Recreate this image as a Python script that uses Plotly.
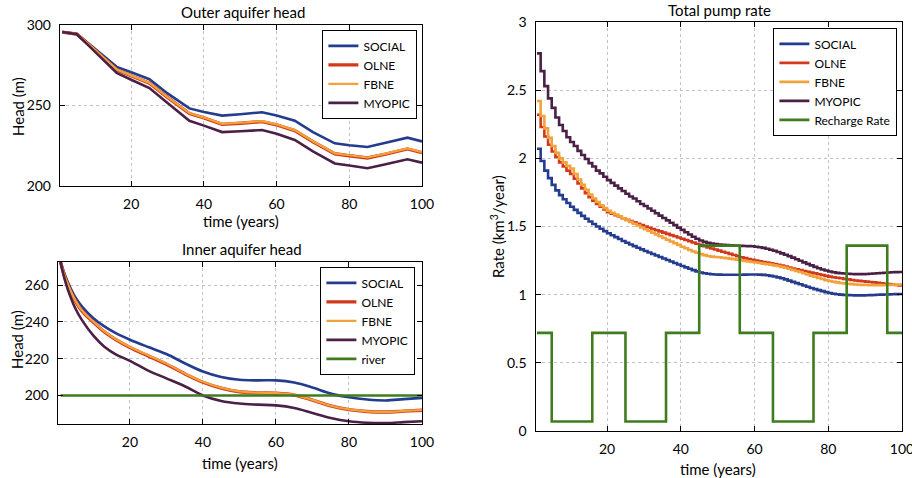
import plotly.graph_objects as go

# ---------------- Outer aquifer head (m) ----------------
outer_years = [1, 3, 5, 8, 12, 16, 20, 25, 30, 36, 40, 45, 50, 56, 60, 65, 70, 76, 80, 85, 90, 96, 100]
outer_social = [295.6, 295.3, 294.6, 289.0, 281.5, 274.0, 270.7, 266.3, 257.5, 248.2, 246.0, 243.7,
                244.6, 245.8, 243.8, 240.6, 233.5, 226.5, 225.3, 224.2, 226.8, 230.0, 227.7]
outer_olne = [295.6, 295.2, 294.4, 288.5, 280.3, 272.2, 268.5, 263.8, 255.0, 245.0, 242.3, 238.3,
              239.0, 240.0, 238.0, 234.4, 227.5, 220.0, 218.8, 217.4, 219.8, 223.0, 220.7]
outer_fbne = [295.6, 295.2, 294.4, 288.6, 280.5, 272.4, 268.7, 264.0, 255.2, 245.3, 242.5, 238.6,
              239.3, 240.3, 238.3, 234.7, 227.8, 220.3, 219.1, 217.7, 220.1, 223.3, 221.0]
outer_myopic = [295.6, 295.1, 294.2, 287.8, 278.8, 270.2, 266.0, 260.8, 251.5, 240.5, 237.5, 233.5,
                234.0, 234.8, 232.5, 228.6, 221.5, 214.0, 212.7, 211.0, 213.5, 216.6, 214.5]

# ---------------- Inner aquifer head (m) ----------------
inner_years = [1, 2, 3, 5, 7, 10, 13, 16, 20, 25, 30, 35, 40, 45, 50, 55, 60, 65, 70, 75, 80, 85, 90, 95, 100]
inner_social = [272.5, 266.5, 261.5, 253.5, 248.0, 242.0, 237.5, 234.0, 230.3, 226.3, 222.5, 217.5, 213.0,
                210.0, 208.5, 208.2, 208.2, 207.0, 204.3, 201.0, 199.0, 197.8, 197.3, 198.0, 198.7]
inner_olne = [272.5, 265.5, 260.0, 251.5, 245.5, 239.8, 234.5, 230.5, 226.0, 221.5, 217.0, 211.8, 207.2,
              204.0, 202.0, 201.4, 201.2, 200.2, 197.5, 194.3, 192.3, 191.3, 191.0, 191.5, 192.0]
inner_fbne = [272.5, 265.7, 260.3, 251.8, 245.8, 240.1, 234.8, 230.8, 226.3, 221.8, 217.3, 212.0, 207.4,
              204.2, 202.2, 201.5, 201.3, 200.3, 197.6, 194.4, 192.4, 191.4, 191.1, 191.6, 192.1]
inner_myopic = [272.5, 264.0, 257.5, 247.5, 240.5, 232.5, 226.5, 222.5, 218.8, 213.5, 209.3, 205.0, 200.0,
                197.0, 195.6, 195.0, 194.6, 193.2, 190.5, 187.8, 186.0, 185.2, 185.0, 185.5, 186.0]
river_years = [1, 100]
river_head = [200, 200]

# ---------------- Total pump rate (km^3/year), one value per year ----------------
pump_years = list(range(1, 101))
pump_social = [
    2.07, 1.98, 1.91, 1.855, 1.805, 1.765, 1.73, 1.70, 1.672, 1.645,
    1.622, 1.60, 1.578, 1.557, 1.537, 1.518, 1.50, 1.483, 1.466, 1.45,
    1.436, 1.422, 1.408, 1.394, 1.381, 1.368, 1.356, 1.344, 1.332, 1.32,
    1.309, 1.298, 1.287, 1.276, 1.265, 1.254, 1.243, 1.232, 1.221, 1.21,
    1.20, 1.19, 1.18, 1.171, 1.163, 1.157, 1.153, 1.15, 1.148, 1.147,
    1.146, 1.146, 1.146, 1.146, 1.146, 1.146, 1.147, 1.148, 1.148, 1.148,
    1.147, 1.145, 1.142, 1.138, 1.133, 1.127, 1.12, 1.112, 1.103, 1.094,
    1.085, 1.076, 1.067, 1.058, 1.049, 1.041, 1.033, 1.026, 1.019, 1.012,
    1.007, 1.003, 1.0, 0.998, 0.997, 0.996, 0.995, 0.995, 0.995, 0.996,
    0.997, 0.998, 0.999, 1.0, 1.001, 1.002, 1.003, 1.004, 1.005, 1.005]
pump_olne = [
    2.32, 2.23, 2.16, 2.10, 2.05, 2.01, 1.97, 1.94, 1.91, 1.885,
    1.85, 1.815, 1.78, 1.745, 1.715, 1.69, 1.665, 1.645, 1.625, 1.605,
    1.594, 1.583, 1.572, 1.561, 1.55, 1.54, 1.53, 1.52, 1.51, 1.50,
    1.491, 1.482, 1.473, 1.464, 1.455, 1.446, 1.437, 1.428, 1.419, 1.41,
    1.401, 1.392, 1.383, 1.374, 1.365, 1.356, 1.347, 1.339, 1.331, 1.323,
    1.315, 1.307, 1.299, 1.291, 1.283, 1.275, 1.268, 1.262, 1.256, 1.25,
    1.245, 1.24, 1.235, 1.23, 1.225, 1.219, 1.213, 1.206, 1.199, 1.192,
    1.186, 1.18, 1.174, 1.168, 1.162, 1.156, 1.15, 1.144, 1.138, 1.132,
    1.128, 1.124, 1.12, 1.116, 1.112, 1.108, 1.104, 1.101, 1.098, 1.096,
    1.093, 1.09, 1.087, 1.083, 1.08, 1.077, 1.074, 1.071, 1.068, 1.065]
pump_fbne = [
    2.42, 2.31, 2.22, 2.15, 2.09, 2.04, 2.00, 1.97, 1.945, 1.925,
    1.885, 1.845, 1.805, 1.77, 1.735, 1.705, 1.68, 1.655, 1.635, 1.615,
    1.601, 1.588, 1.574, 1.561, 1.547, 1.534, 1.52, 1.507, 1.493, 1.48,
    1.467, 1.454, 1.442, 1.429, 1.416, 1.403, 1.39, 1.378, 1.365, 1.352,
    1.34, 1.328, 1.317, 1.307, 1.298, 1.29, 1.284, 1.279, 1.276, 1.274,
    1.271, 1.268, 1.264, 1.26, 1.256, 1.252, 1.248, 1.244, 1.24, 1.236,
    1.232, 1.228, 1.224, 1.22, 1.215, 1.21, 1.204, 1.197, 1.19, 1.182,
    1.174, 1.166, 1.157, 1.148, 1.14, 1.131, 1.123, 1.115, 1.107, 1.10,
    1.095, 1.09, 1.086, 1.083, 1.08, 1.077, 1.075, 1.073, 1.072, 1.071,
    1.07, 1.07, 1.07, 1.07, 1.071, 1.072, 1.073, 1.074, 1.075, 1.076]
pump_myopic = [
    2.77, 2.64, 2.53, 2.44, 2.37, 2.30, 2.245, 2.20, 2.155, 2.12,
    2.09, 2.055, 2.025, 1.995, 1.965, 1.94, 1.91, 1.89, 1.865, 1.84,
    1.82, 1.80, 1.78, 1.76, 1.74, 1.72, 1.705, 1.685, 1.665, 1.65,
    1.632, 1.615, 1.597, 1.58, 1.562, 1.545, 1.527, 1.51, 1.492, 1.475,
    1.458, 1.441, 1.425, 1.41, 1.397, 1.387, 1.38, 1.375, 1.371, 1.368,
    1.366, 1.364, 1.362, 1.36, 1.359, 1.358, 1.357, 1.356, 1.355, 1.352,
    1.348, 1.343, 1.337, 1.33, 1.322, 1.313, 1.303, 1.293, 1.283, 1.272,
    1.26, 1.249, 1.237, 1.226, 1.215, 1.204, 1.194, 1.185, 1.177, 1.17,
    1.164, 1.16, 1.157, 1.155, 1.153, 1.152, 1.151, 1.151, 1.151, 1.152,
    1.153, 1.155, 1.157, 1.159, 1.161, 1.163, 1.164, 1.165, 1.166, 1.166]

# Recharge rate: piecewise-constant periods (start year, rate)
recharge_years = [1, 5, 16, 25, 36, 45, 56, 65, 76, 85, 96, 100]
recharge_rate = [0.72, 0.07, 0.72, 0.07, 0.72, 1.36, 0.72, 0.07, 0.72, 1.36, 0.72, 0.72]

# ---------------- Styling ----------------
C_SOCIAL = "#233c8e"
C_OLNE = "#d2381c"
C_FBNE = "#f2a23a"
C_MYOPIC = "#4b2046"
C_GREEN = "#3f7c1e"
FONT = "Lato"
W = 912
H = 478

fig = go.Figure()


def add_line(x, y, name, color, xa, ya, legend, shape="linear", width=2.6):
    fig.add_trace(go.Scatter(
        x=x, y=y, name=name, mode="lines",
        line=dict(color=color, width=width, shape=shape),
        xaxis=xa, yaxis=ya, legend=legend, hoverinfo="skip"))


# Outer aquifer head
add_line(outer_years, outer_social, "SOCIAL", C_SOCIAL, "x", "y", "legend")
add_line(outer_years, outer_olne, "OLNE", C_OLNE, "x", "y", "legend", width=3.4)
add_line(outer_years, outer_fbne, "FBNE", C_FBNE, "x", "y", "legend", width=2.2)
add_line(outer_years, outer_myopic, "MYOPIC", C_MYOPIC, "x", "y", "legend")

# Inner aquifer head
add_line(inner_years, inner_social, "SOCIAL", C_SOCIAL, "x2", "y2", "legend2", shape="spline")
add_line(inner_years, inner_olne, "OLNE", C_OLNE, "x2", "y2", "legend2", shape="spline", width=3.4)
add_line(inner_years, inner_fbne, "FBNE", C_FBNE, "x2", "y2", "legend2", shape="spline", width=2.2)
add_line(inner_years, inner_myopic, "MYOPIC", C_MYOPIC, "x2", "y2", "legend2", shape="spline")
add_line(river_years, river_head, "river", C_GREEN, "x2", "y2", "legend2")

# Total pump rate
add_line(pump_years, pump_social, "SOCIAL", C_SOCIAL, "x3", "y3", "legend3", shape="hv")
add_line(pump_years, pump_olne, "OLNE", C_OLNE, "x3", "y3", "legend3", shape="hv")
add_line(pump_years, pump_fbne, "FBNE", C_FBNE, "x3", "y3", "legend3", shape="hv")
add_line(pump_years, pump_myopic, "MYOPIC", C_MYOPIC, "x3", "y3", "legend3", shape="hv")
add_line(recharge_years, recharge_rate, "Recharge Rate", C_GREEN, "x3", "y3", "legend3", shape="hv")

axis_style = dict(
    showline=True, linecolor="black", linewidth=1.4, mirror="ticks",
    ticks="inside", ticklen=5, tickwidth=1.2, tickcolor="black",
    showgrid=True, gridcolor="#c2c2c2", gridwidth=1, griddash="dot",
    zeroline=False, automargin=False, ticklabeloverflow="allow",
    tickfont=dict(family=FONT, size=14, color="black"),
)


def px_x(px):
    return px / W


def px_y(py):
    return 1 - py / H


year_ticks = [20, 40, 60, 80, 100]

fig.update_layout(
    template="none",
    width=W, height=H,
    margin=dict(l=0, r=0, t=0, b=0),
    paper_bgcolor="white", plot_bgcolor="white",
    font=dict(family=FONT, color="black"),
    xaxis=dict(axis_style, domain=[px_x(60), px_x(422)], anchor="y",
               range=[0.4, 100], tickvals=year_ticks, ticklabelstandoff=5),
    yaxis=dict(axis_style, domain=[px_y(186), px_y(25)], anchor="x",
               range=[200, 300], tickvals=[200, 250, 300], ticklabelstandoff=5),
    xaxis2=dict(axis_style, domain=[px_x(58), px_x(422)], anchor="y2",
                range=[0.3, 100], tickvals=year_ticks, ticklabelstandoff=5),
    yaxis2=dict(axis_style, domain=[px_y(424), px_y(262)], anchor="x2",
                range=[184.5, 272.5], tickvals=[200, 220, 240, 260], ticklabelstandoff=5),
    xaxis3=dict(axis_style, domain=[px_x(535.5), px_x(902)], anchor="y3",
                range=[0.6, 100], tickvals=year_ticks, ticklabelstandoff=5),
    yaxis3=dict(axis_style, domain=[px_y(431), px_y(22)], anchor="x3",
                range=[0, 3], tickvals=[0, 0.5, 1, 1.5, 2, 2.5, 3],
                ticktext=["0", "0.5", "1", "1.5", "2", "2.5", "3"], ticklabelstandoff=5),
)

legend_style = dict(
    xanchor="right", yanchor="top",
    bgcolor="white", bordercolor="black", borderwidth=1.4,
    font=dict(family=FONT, size=12, color="black"),
    tracegroupgap=0, itemwidth=30, itemclick=False, itemdoubleclick=False,
)
fig.update_layout(
    legend=dict(legend_style, x=px_x(417), y=px_y(30)),
    legend2=dict(legend_style, x=px_x(415), y=px_y(267)),
    legend3=dict(legend_style, x=px_x(897), y=px_y(28)),
)

# Titles and axis labels
texts = [
    ("Outer aquifer head", 243, 12, 0, 15),
    ("time (years)", 241, 221, 0, 15),
    ("Head (m)", 18, 107, -90, 15),
    ("Inner aquifer head", 242, 249, 0, 15),
    ("time (years)", 240, 463, 0, 15),
    ("Head (m)", 17, 340, -90, 15),
    ("Total pump rate", 719, 10, 0, 15),
    ("time (years)", 718, 469, 0, 15),
    ("Rate (km<sup>3</sup>/year)", 497, 226, -90, 15),
]
for text, x, y, angle, size in texts:
    fig.add_annotation(
        text=text, x=px_x(x), y=px_y(y), xref="paper", yref="paper",
        xanchor="center", yanchor="middle", showarrow=False, textangle=angle,
        font=dict(family=FONT, size=size, color="black"))

fig.write_html("out.html")
